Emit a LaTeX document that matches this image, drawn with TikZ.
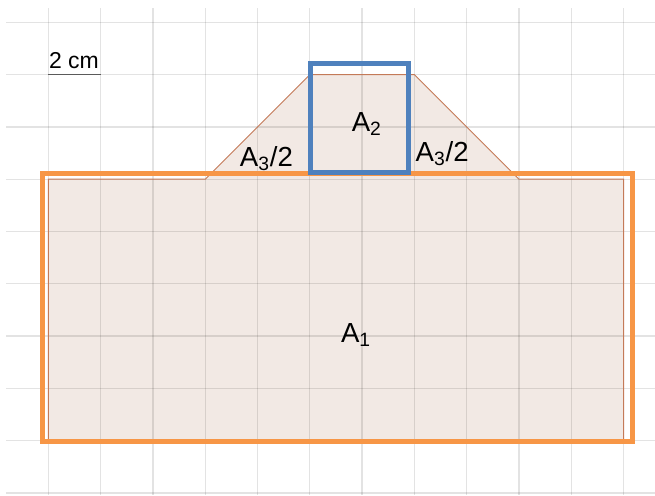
\documentclass[tikz,border=0pt]{standalone}
\usepackage{fontspec}
\setmainfont{Liberation Sans}
\usetikzlibrary{positioning}
\definecolor{areafill}{RGB}{242,233,228}
\definecolor{arealine}{RGB}{196,122,88}
\definecolor{rectorange}{RGB}{247,150,70}
\definecolor{sqblue}{RGB}{79,129,189}
\definecolor{barline}{RGB}{90,90,90}

\begin{document}
\begin{tikzpicture}[
    gridline/.style={draw=black, draw opacity=0.11, line width=0.7pt},
    areashape/.style={fill=areafill},
    outline/.style={arealine, line width=0.5pt},
    thickframe/.style={line width=2.7pt},
    lbl/.style={font=\fontsize{15}{18}\selectfont, inner sep=0pt, anchor=base},
    scalelbl/.style={font=\fontsize{12.5}{15}\selectfont, inner sep=0pt, anchor=base}
]
\useasboundingbox (-0.924,0.426) rectangle (11.60,-9.04);

\fill[areashape] (0,-3) -- (3,-3) -- (5,-1) -- (7,-1) -- (9,-3) -- (11,-3) -- (11,-8) -- (0,-8) -- cycle;

\foreach \j in {0,...,9}
    \draw[gridline] (-0.8,-\j) -- (11.6,-\j);
\foreach \i in {0,...,11}
    \draw[gridline] (\i,0.27) -- (\i,-9.04);

\draw[outline] (0,-3) -- (3,-3) -- (5,-1) -- (7,-1) -- (9,-3) -- (11,-3) -- (11,-8) -- (0,-8) -- cycle;

\draw[thickframe, rectorange] (-0.11,-2.895) rectangle (11.17,-8.02);
\draw[thickframe, sqblue] (5.01,-0.79) rectangle (6.88,-2.87);

\node[scalelbl] (scale) at (0.49,-0.88) {2 cm};
\coordinate (barleft) at (0,-1);
\coordinate (barright) at (1,-1);
\draw[barline, line width=0.6pt] (barleft) -- (barright);

\node[lbl] (areaone)   at (5.885,-6.12) {A\textsubscript{1}};
\node[lbl] (areatwo)   at (6.09,-2.09)  {A\textsubscript{2}};
\node[lbl] (halfleft)  at (4.17,-2.76)  {A\textsubscript{3}/2};
\node[lbl] (halfright) at (7.53,-2.66)  {A\textsubscript{3}/2};
\end{tikzpicture}
\end{document}
